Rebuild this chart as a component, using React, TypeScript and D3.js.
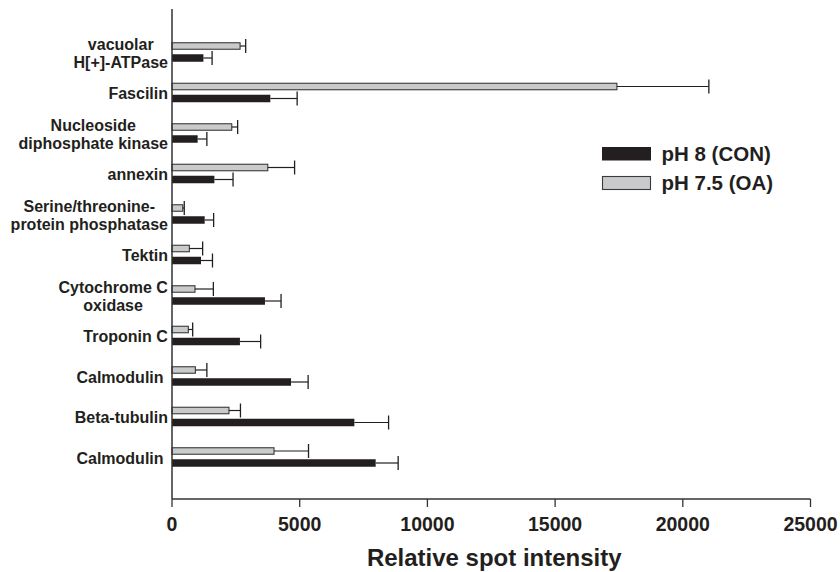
import React from 'react';
import * as d3 from 'd3';

// protein spots, top to bottom (each entry = lines of the label)
const categories = [
  ['vacuolar', 'H[+]-ATPase'],
  ['Fascilin'],
  ['Nucleoside', 'diphosphate kinase'],
  ['annexin'],
  ['Serine/threonine-', 'protein phosphatase'],
  ['Tektin'],
  ['Cytochrome C', 'oxidase'],
  ['Troponin C'],
  ['Calmodulin '],
  ['Beta-tubulin'],
  ['Calmodulin '],
];

// pH 7.5 (OA)
const oaMean = [2665, 17420, 2340, 3750, 420, 680, 900, 640, 915, 2230, 3995];
const oaErr = [220, 3600, 230, 1050, 60, 520, 720, 170, 450, 450, 1350];

// pH 8 (CON)
const conMean = [1230, 3850, 1005, 1660, 1280, 1135, 3640, 2660, 4660, 7140, 7975];
const conErr = [340, 1050, 360, 730, 350, 450, 630, 810, 670, 1340, 880];

const legendItems = ['pH 8 (CON)', 'pH 7.5 (OA)'];
const xTicks = [0, 5000, 10000, 15000, 20000, 25000];

const width = 840;
const height = 572;
const ink = '#231f20';
const greyFill = '#c9cacb';
const font = '"Liberation Sans", Arial, Helvetica, sans-serif';

export default function App() {
  const labelRef = React.useRef<SVGGElement>(null);

  const x = d3.scaleLinear().domain([0, 25000]).range([172, 810.5]);
  const y = d3
    .scaleBand<number>()
    .domain(categories.map((_, i) => i))
    .range([31.75, 477.25]);
  // grey bar above, black bar below inside each band
  const sub = d3
    .scaleBand<string>()
    .domain(['oa', 'con'])
    .range([0, 19.5])
    .paddingInner(0.375);

  const axisY = 499;
  const x0 = x(0);

  React.useEffect(() => {
    if (!labelRef.current) return;
    // centre the multi-line blocks, right edge against the axis
    d3.select(labelRef.current)
      .selectAll<SVGGElement, unknown>('g.label')
      .each(function () {
        const g = d3.select(this);
        const box = (this as SVGGElement).getBBox();
        const cy = +g.attr('data-cy');
        g.attr('transform', `translate(${168 - box.width / 2},${cy})`);
      });
  }, []);

  const bars = categories.map((_, i) => {
    const top = (y(i) ?? 0) + (y.bandwidth() - 19.5) / 2;
    const gy = top + (sub('oa') ?? 0);
    const by = top + (sub('con') ?? 0);
    const bw = sub.bandwidth();
    const gc = gy + bw / 2;
    const bc = by + bw / 2;
    const gEnd = x(oaMean[i]);
    const gErr = x(oaMean[i] + oaErr[i]);
    const bEnd = x(conMean[i]);
    const bErr = x(conMean[i] + conErr[i]);
    return (
      <g key={i}>
        <rect x={x0} y={gy + 0.5} width={gEnd - x0} height={bw - 1}
          fill={greyFill} stroke="#3a3a3a" strokeWidth={1.1} />
        <line x1={gEnd} x2={gErr} y1={gc} y2={gc} stroke={ink} strokeWidth={1.2} />
        <line x1={gErr} x2={gErr} y1={gc - 7} y2={gc + 7} stroke={ink} strokeWidth={1.3} />
        <rect x={x0} y={by} width={bEnd - x0} height={bw} fill={ink} />
        <line x1={bEnd} x2={bErr} y1={bc} y2={bc} stroke={ink} strokeWidth={1.2} />
        <line x1={bErr} x2={bErr} y1={bc - 7} y2={bc + 7} stroke={ink} strokeWidth={1.3} />
      </g>
    );
  });

  return (
    <div style={{ position: 'absolute', left: 0, top: 0 }}>
      <svg width={width} height={height} style={{ display: 'block', background: '#fff' }}
        fontFamily={font} fontWeight="bold" fill={ink}>
        {bars}

        {/* axes */}
        <line x1={x0} x2={x0} y1={9} y2={axisY} stroke="#333" strokeWidth={1.5} />
        <line x1={x0} x2={x(25000)} y1={axisY} y2={axisY} stroke="#333" strokeWidth={1.5} />
        {xTicks.map((t) => (
          <g key={t}>
            <line x1={x(t)} x2={x(t)} y1={axisY} y2={axisY + 8} stroke="#333" strokeWidth={1.3} />
            <text x={x(t)} y={531} textAnchor="middle" fontSize={19.5}>{t}</text>
          </g>
        ))}
        <text x={(x(0) + x(25000)) / 2 + 3} y={566} textAnchor="middle" fontSize={24}>
          Relative spot intensity
        </text>

        {/* category labels */}
        <g ref={labelRef} fontSize={16}>
          {categories.map((lines, i) => {
            const cy = (y(i) ?? 0) + y.bandwidth() / 2;
            return (
              <g key={i} className="label" data-cy={cy} transform={`translate(90,${cy})`}>
                {lines.map((ln, j) => (
                  <text key={j} x={0} y={6.5 + (j - (lines.length - 1) / 2) * 18}
                    textAnchor="middle" style={{ whiteSpace: 'pre' }}>
                    {ln}
                  </text>
                ))}
              </g>
            );
          })}
        </g>

        {/* legend */}
        <g fontSize={20.5}>
          {legendItems.map((name, i) => (
            <g key={name} transform={`translate(602,${147 + i * 29})`}>
              {i === 0 ? (
                <rect x={0} y={0} width={49} height={13.5} fill={ink} />
              ) : (
                <rect x={0.5} y={0.5} width={48} height={13} fill={greyFill}
                  stroke="#3a3a3a" strokeWidth={1.1} />
              )}
              <text x={59.5} y={14} fontSize={20.5}>{name}</text>
            </g>
          ))}
        </g>
      </svg>
    </div>
  );
}
